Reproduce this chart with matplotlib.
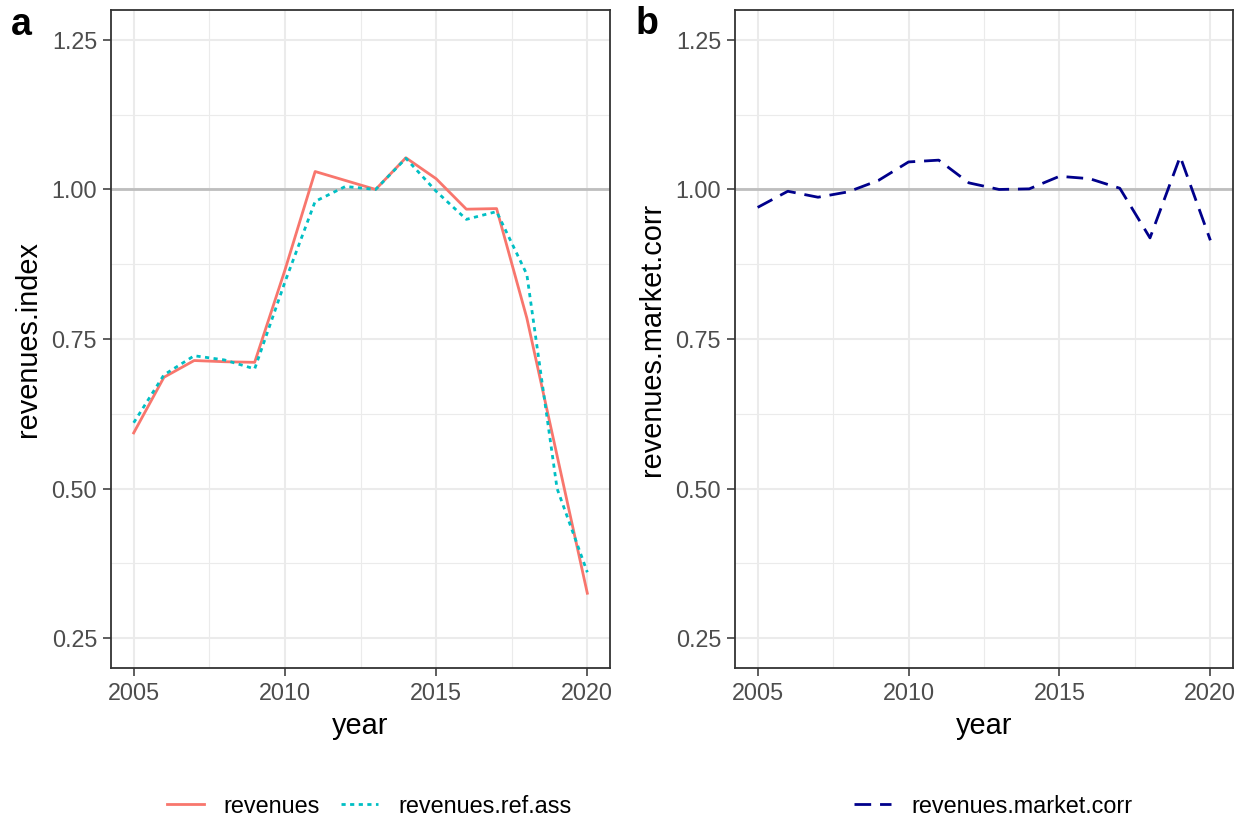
import matplotlib
matplotlib.use("Agg")
import matplotlib.pyplot as plt
from matplotlib.lines import Line2D
import numpy as np

plt.rcParams['font.family'] = ['Liberation Sans', 'DejaVu Sans']

years = list(range(2005, 2021))
revenues = [0.593, 0.686, 0.714, 0.712, 0.711, 0.865, 1.030, 1.015, 1.000, 1.053,
            1.018, 0.967, 0.968, 0.785, 0.555, 0.325]
revenues_ref_ass = [0.610, 0.690, 0.722, 0.715, 0.700, 0.845, 0.980, 1.005, 1.000, 1.052,
                    0.997, 0.950, 0.963, 0.858, 0.500, 0.360]
revenues_market_corr = [0.970, 0.997, 0.987, 0.996, 1.015, 1.046, 1.049, 1.011, 1.000, 1.001,
                        1.022, 1.018, 1.002, 0.919, 1.055, 0.915]

x_ticks = [2005, 2010, 2015, 2020]
x_minor = [2007.5, 2012.5, 2017.5]
y_ticks = [0.25, 0.50, 0.75, 1.00, 1.25]
y_tick_labels = ["0.25", "0.50", "0.75", "1.00", "1.25"]
y_minor = [0.375, 0.625, 0.875, 1.125]

RED = "#F8766D"
TEAL = "#00BFC4"
NAVY = "#00008B"

W, H = 1249, 822
fig = plt.figure(figsize=(W / 100, H / 100), dpi=100)

def px_axes(l, t, r, b):
    return fig.add_axes([l / W, 1 - b / H, (r - l) / W, (b - t) / H])

axA = px_axes(111, 10, 610, 668)
axB = px_axes(735, 10, 1233, 668)

TICK_FS = 16.8
TITLE_FS = 20.8
LW = 2.0

def style(ax, ylabel):
    ax.set_xlim(2004.25, 2020.75)
    ax.set_ylim(0.2, 1.3)
    ax.set_xticks(x_ticks)
    ax.set_xticks(x_minor, minor=True)
    ax.set_yticks(y_ticks)
    ax.set_yticklabels(y_tick_labels)
    ax.set_yticks(y_minor, minor=True)
    ax.grid(True, which='major', color='#EBEBEB', lw=1.5, zorder=0)
    ax.grid(True, which='minor', color='#EBEBEB', lw=0.8, zorder=0)
    ax.set_axisbelow(True)
    ax.tick_params(which='major', length=5.5, width=1.1, color='#333333',
                   labelsize=TICK_FS, labelcolor='#4D4D4D', pad=4.5)
    ax.tick_params(which='minor', length=0)
    for s in ax.spines.values():
        s.set_color('#333333')
        s.set_linewidth(1.3)
    ax.set_xlabel("year", fontsize=TITLE_FS, labelpad=5)
    ax.set_ylabel(ylabel, fontsize=TITLE_FS, labelpad=7)
    ax.axhline(1.0, color='#BEBEBE', lw=2.0, zorder=1)

style(axA, "revenues.index")
style(axB, "revenues.market.corr")

axA.plot(years, revenues, color=RED, lw=LW, zorder=3)
axA.plot(years, revenues_ref_ass, color=TEAL, lw=LW, dashes=(1.5, 1.6), zorder=3)
axB.plot(years, revenues_market_corr, color=NAVY, lw=LW, dashes=(6.0, 3.2), zorder=3)

fig.text(21 / W, 1 - 25 / H, "a", fontsize=27, fontweight='bold', ha='center', va='center')
fig.text(647 / W, 1 - 24 / H, "b", fontsize=27, fontweight='bold', ha='center', va='center')

h_a = [Line2D([], [], color=RED, lw=LW),
       Line2D([], [], color=TEAL, lw=LW, dashes=(1.5, 1.6))]
legA = fig.legend(h_a, ["revenues", "revenues.ref.ass"], loc='center',
                  bbox_to_anchor=(369 / W, 1 - 806 / H), ncol=2, frameon=False,
                  fontsize=TICK_FS, handlelength=1.6, handletextpad=0.85,
                  columnspacing=0.9)
h_b = [Line2D([], [], color=NAVY, lw=LW, dashes=(6.0, 3.2))]
legB = fig.legend(h_b, ["revenues.market.corr"], loc='center',
                  bbox_to_anchor=(993 / W, 1 - 806 / H), ncol=1, frameon=False,
                  fontsize=TICK_FS, handlelength=1.6, handletextpad=0.85)

fig.savefig("out.png", dpi=100, facecolor='white')
